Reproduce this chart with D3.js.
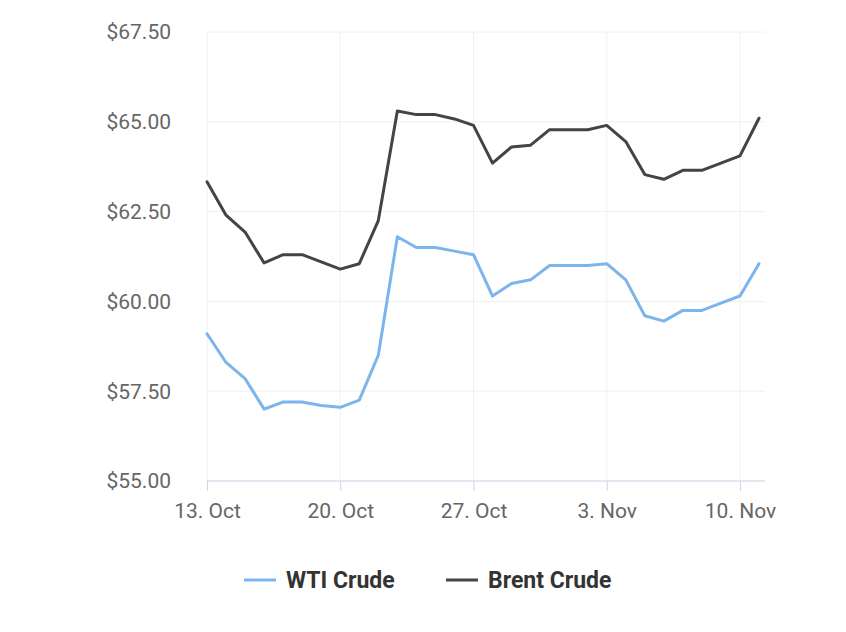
<!DOCTYPE html>
<html><head><meta charset="utf-8">
<script src="https://cdn.jsdelivr.net/npm/d3@7"></script>
<style>body{margin:0;background:#fff;font-family:Roboto,sans-serif;}</style>
</head><body><div id="chart"></div>
<script>
// daily values from 13 Oct to 11 Nov
var startDate = new Date(2025, 9, 13);
var wti = [59.1, 58.3, 57.85, 57.0, 57.2, 57.2, 57.1, 57.05, 57.25, 58.5, 61.8, 61.5, 61.5, 61.4, 61.3,
  60.15, 60.5, 60.6, 61.0, 61.0, 61.0, 61.05, 60.6, 59.6, 59.45, 59.75, 59.75, 59.95, 60.15, 61.05];
var brent = [63.33, 62.4, 61.93, 61.07, 61.3, 61.3, 61.1, 60.9, 61.05, 62.25, 65.3, 65.2, 65.2, 65.08, 64.9,
  63.85, 64.3, 64.35, 64.78, 64.78, 64.78, 64.9, 64.45, 63.53, 63.4, 63.65, 63.65, 63.85, 64.05, 65.1];
var yTicks = [55, 57.5, 60, 62.5, 65, 67.5];
var xTicks = [new Date(2025, 9, 13), new Date(2025, 9, 20), new Date(2025, 9, 27), new Date(2025, 10, 3), new Date(2025, 10, 10)];
var seriesNames = ["WTI Crude", "Brent Crude"];
var seriesColors = ["#7cb5ec", "#434348"];

var dates = wti.map(function(d, i) { return d3.timeDay.offset(startDate, i); });

var width = 846, height = 632;
var svg = d3.select("#chart").append("svg").attr("width", width).attr("height", height);

var pLeft = 207, pRight = 765, pTop = 32, pBottom = 481;
var x = d3.scaleTime()
  .domain([startDate, d3.timeDay.offset(startDate, 29)])
  .range([pLeft, 759]);
var y = d3.scaleLinear().domain([55, 67.5]).range([pBottom, pTop]);

// grid
svg.append("g").selectAll("line").data(yTicks).enter().append("line")
  .attr("x1", pLeft).attr("x2", pRight)
  .attr("y1", function(d) { return y(d); }).attr("y2", function(d) { return y(d); })
  .attr("stroke", "#f0f0f0").attr("stroke-width", 1);
svg.append("g").selectAll("line").data(xTicks).enter().append("line")
  .attr("x1", function(d) { return x(d); }).attr("x2", function(d) { return x(d); })
  .attr("y1", pTop).attr("y2", pBottom)
  .attr("stroke", "#f0f0f0").attr("stroke-width", 1);

// y labels
svg.append("g").selectAll("text").data(yTicks).enter().append("text")
  .attr("x", 171).attr("y", function(d) { return y(d); }).attr("dy", "0.35em")
  .attr("text-anchor", "end").attr("fill", "#666").style("font-size", "21px")
  .text(function(d) { return "$" + d.toFixed(2); });

// x axis
var xAxis = d3.axisBottom(x).tickValues(xTicks).tickSize(10).tickPadding(12)
  .tickFormat(function(d) { return d.getDate() + ". " + d3.timeFormat("%b")(d); });
var gx = svg.append("g").attr("transform", "translate(0," + pBottom + ")").call(xAxis);
gx.select(".domain").attr("d", "M" + pLeft + ",0H" + pRight).attr("stroke", "#ccd6eb");
gx.selectAll(".tick line").attr("stroke", "#ccd6eb");
gx.selectAll("text").attr("fill", "#666").style("font-size", "21px").style("font-family", "Roboto");

// lines
var line = d3.line()
  .x(function(d, i) { return x(dates[i]); })
  .y(function(d) { return y(d); });
[wti, brent].forEach(function(s, k) {
  svg.append("path").attr("d", line(s)).attr("fill", "none")
    .attr("stroke", seriesColors[k]).attr("stroke-width", 3)
    .attr("stroke-linejoin", "round").attr("stroke-linecap", "round");
});

// legend
var lg = svg.append("g").attr("transform", "translate(0,580)");
var lx = [244, 446];
seriesNames.forEach(function(n, k) {
  lg.append("line").attr("x1", lx[k]).attr("x2", lx[k] + 32).attr("y1", 0).attr("y2", 0)
    .attr("stroke", seriesColors[k]).attr("stroke-width", 3);
  lg.append("text").attr("x", lx[k] + 42).attr("y", 0).attr("dy", "0.35em")
    .attr("fill", "#333").style("font-size", "23px").style("font-weight", "bold").text(n);
});
</script></body></html>
